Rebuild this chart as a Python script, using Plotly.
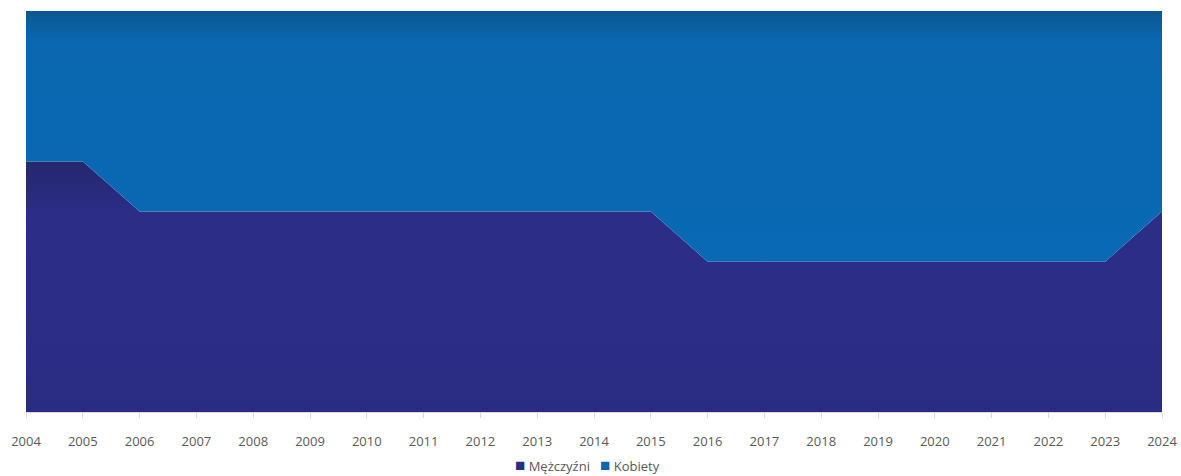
import plotly.graph_objects as go

years = [str(y) for y in range(2004, 2025)]
men = [5, 5, 4, 4, 4, 4, 4, 4, 4, 4, 4, 4, 3, 3, 3, 3, 3, 3, 3, 3, 4]
women = [3, 3, 4, 4, 4, 4, 4, 4, 4, 4, 4, 4, 5, 5, 5, 5, 5, 5, 5, 5, 4]
series_names = ["Mężczyźni", "Kobiety"]

men_color = "#2b2c86"
women_color = "#0a68b2"

fig = go.Figure()
fig.add_trace(go.Scatter(
    x=years, y=men, name=series_names[0], stackgroup="one", groupnorm="percent",
    mode="none", fillcolor=men_color, line=dict(width=0), showlegend=False,
    fillgradient=dict(type="vertical",
                      colorscale=[[0, "#2a2c84"], [0.8, "#2b2d87"], [1.0, "#25276e"]]),
))
fig.add_trace(go.Scatter(
    x=years, y=women, name=series_names[1], stackgroup="one",
    mode="none", fillcolor=women_color, line=dict(width=0), showlegend=False,
    fillgradient=dict(type="vertical",
                      colorscale=[[0, "#0a69b4"], [0.88, "#0a67b0"], [1.0, "#0b5790"]]),
))

legend_text = (
    f"<span style='color:{men_color};font-size:17px'>■</span> {series_names[0]}"
    f"&nbsp;&nbsp;&nbsp;<span style='color:{women_color};font-size:17px'>■</span> {series_names[1]}"
)
fig.add_annotation(
    text=legend_text, xref="paper", yref="paper", x=0.4945, xanchor="center",
    y=-0.132, yanchor="middle", showarrow=False,
    font=dict(size=13, color="#595959", family="Open Sans, sans-serif"),
)

fig.update_layout(
    width=1181, height=476,
    margin=dict(l=26, r=19, t=11, b=64, autoexpand=False),
    paper_bgcolor="white", plot_bgcolor="white",
    font=dict(family="Open Sans, sans-serif", size=13, color="#595959"),
    showlegend=False,
    xaxis=dict(range=[0, 20], type="category", showgrid=False, showline=True, linecolor="#d9d9d9",
               ticks="outside", ticklen=5, tickcolor="#d9d9d9", zeroline=False, automargin=False,
               ticklabeloverflow="allow", ticklabelstandoff=12,
               tickfont=dict(size=13, color="#595959")),
    yaxis=dict(range=[0, 100], visible=False, showgrid=False, zeroline=False, automargin=False),
)

fig.write_html("out.html", config={"displayModeBar": False},
               post_script="document.body.style.margin='0px';")
